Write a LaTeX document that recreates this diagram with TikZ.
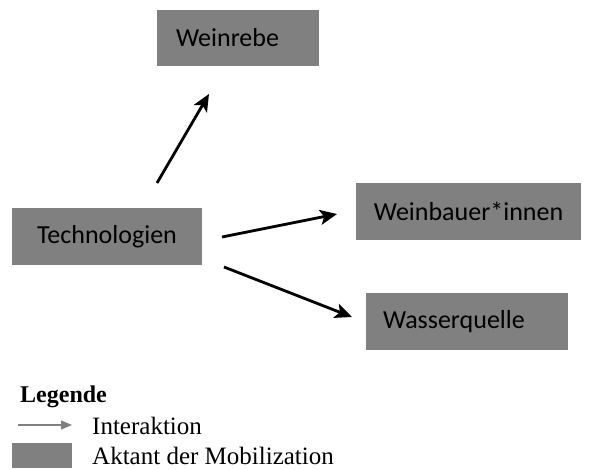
\documentclass[tikz,border=0pt]{standalone}
\usepackage{fontspec}
\setmainfont{Liberation Serif}
\newfontfamily\boxfont{Carlito}
\usetikzlibrary{arrows, arrows.meta, positioning}
\definecolor{aktgray}{RGB}{128,128,128}

\begin{document}
\begin{tikzpicture}[x=1pt, y=-1pt, ->, >=stealth,
    aktant/.style={fill=aktgray, inner sep=0pt, font=\boxfont\fontsize{26}{30}\selectfont},
    interakt/.style={line width=2.8pt, -{Stealth[length=17pt, width=15pt, inset=4pt]}},
    legtext/.style={anchor=west, inner sep=0pt, font=\fontsize{25}{29}\selectfont}]

		\useasboundingbox (0,0) rectangle (597,470);

		\node[aktant, minimum width=162pt, minimum height=56pt, text width=124pt, align=left] (rebe) at (238,38) {Weinrebe};
		\node[aktant, minimum width=190pt, minimum height=57pt] (tech) at (107,236.5) {Technologien};
		\node[aktant, minimum width=225pt, minimum height=57pt] (bauer) at (468.5,211.5) {Weinbauer*innen};
		\node[aktant, minimum width=202pt, minimum height=57pt, text width=168pt, align=left] (quelle) at (467,321.5) {Wasserquelle};

		\coordinate (t1) at (157,183);
		\coordinate (r1) at (209,94);
		\coordinate (t2) at (222,237);
		\coordinate (b1) at (337,214);
		\coordinate (t3) at (224,267);
		\coordinate (q1) at (352,317);

		\path
		(t1) edge[interakt] (r1)
		(t2) edge[interakt] (b1)
		(t3) edge[interakt] (q1);

		% Legende
		\node[legtext, font=\bfseries\fontsize{24}{28}\selectfont] (leg) at (20,397) {Legende};
		\coordinate (la) at (18,425);
		\coordinate (lb) at (72,425);
		\draw[aktgray, line width=1.2pt, -{Triangle[length=11pt, width=9pt]}] (la) -- (lb);
		\node[legtext] (inter) at (92,426) {Interaktion};
		\node[fill=aktgray, minimum width=60pt, minimum height=25pt, inner sep=0pt] (legbox) at (42,455.5) {};
		\node[legtext] (mobil) at (92,456) {Aktant der Mobilization};

\end{tikzpicture}
\end{document}
